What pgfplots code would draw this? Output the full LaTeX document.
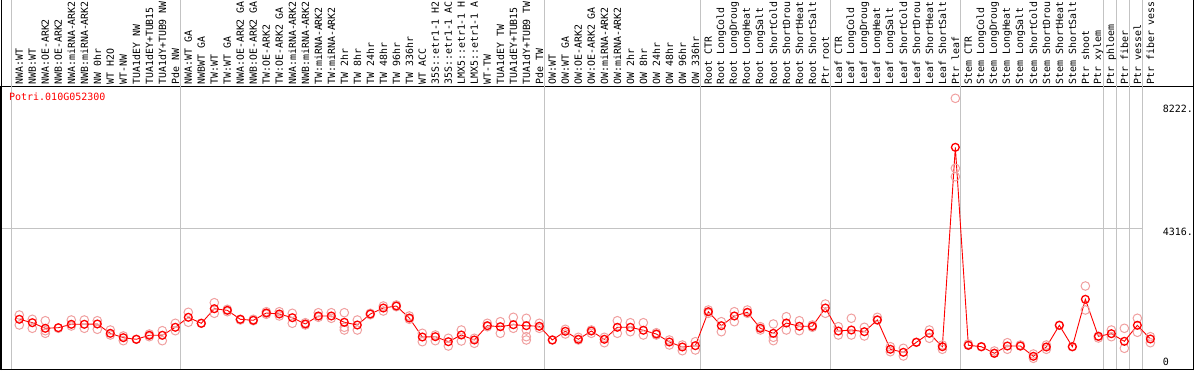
\documentclass[border=0pt]{standalone}
\usepackage{pgfplots}
\pgfplotsset{compat=1.18}
\usepackage{pgfplotstable}
\usepackage{fontspec}
\setmainfont{DejaVu Sans Mono}
\newfontfamily\mono{DejaVu Sans Mono}
\definecolor{rep}{RGB}{240,160,160}
\definecolor{sepgray}{RGB}{195,195,195}

\pgfplotstableread{
x y
0 1419
1 1311
2 1133
3 1152
4 1260
5 1260
6 1270
7 974
8 835
9 784
10 911
11 911
12 1165
13 1482
14 1292
15 1755
16 1704
17 1419
18 1387
19 1619
20 1587
21 1470
22 1270
23 1524
24 1524
25 1324
26 1238
27 1587
28 1777
29 1841
30 1460
31 857
32 867
33 708
34 920
35 762
36 1216
37 1184
38 1247
39 1216
40 1197
41 762
42 1038
43 784
44 1047
45 784
46 1165
47 1165
48 1070
49 952
50 698
51 540
52 581
53 1660
54 1216
55 1524
56 1641
57 1133
58 974
59 1301
60 1197
61 1197
62 1777
63 1047
64 1079
65 1025
66 1397
67 467
68 371
69 689
70 974
71 549
72 6878
73 594
74 549
75 340
76 571
77 571
78 244
79 540
80 1228
81 549
82 2054
83 879
84 962
85 720
86 1228
87 794
}\means

\pgfplotstableread{
x y
0 1555
0 1238
1 1419
1 1133
2 1374
2 974
2 1057
3 1133
4 1397
4 1206
5 1397
5 1133
6 1374
6 1101
7 1079
7 920
8 889
8 740
9 784
10 952
10 867
11 1057
11 740
12 1292
12 1057
13 1641
13 1324
14 1292
15 1946
15 1609
16 1736
16 1660
17 1419
17 1397
18 1419
18 1374
19 1660
19 1577
20 1660
20 1524
21 1609
21 1292
22 1311
22 1238
23 1628
23 1482
24 1628
24 1451
25 1628
25 1165
25 1079
26 1397
26 1079
27 1609
27 1565
28 1841
28 1682
29 1873
29 1819
30 1524
30 1419
31 974
31 708
32 920
32 740
33 816
33 571
34 1079
34 730
35 816
35 657
36 1292
36 1184
37 1343
37 974
38 1482
38 1133
39 1451
39 1079
39 867
39 762
40 1292
40 1133
41 762
42 1101
42 952
43 847
43 762
44 1079
44 974
45 847
45 676
46 1374
46 974
47 1311
47 1025
48 1311
48 920
49 993
49 920
50 762
50 603
51 603
51 422
52 708
52 444
53 1714
53 1609
54 1343
54 1025
55 1660
55 1343
56 1714
56 1609
57 1184
57 1079
58 1270
58 847
58 740
59 1501
59 1079
60 1374
60 1057
61 1238
61 1165
62 1904
62 1609
63 1184
63 920
64 1451
64 920
65 1165
65 889
66 1482
66 1397
67 549
67 390
68 498
68 254
69 689
70 1079
70 816
71 467
71 603
72 8433
72 6212
72 5945
73 594
73 635
74 549
75 340
75 413
76 676
76 467
77 571
77 603
78 181
78 317
79 467
79 603
80 1228
81 549
82 2476
82 1714
83 879
83 825
84 1079
84 867
85 1133
85 498
86 1451
86 1006
87 867
87 676
}\reps

\begin{document}
\begin{tikzpicture}[x=1pt,y=1pt]
\useasboundingbox (0,0) rectangle (1194,370);
\clip (0,0) rectangle (1194,370);
\begin{axis}[
  at={(1pt,1pt)}, anchor=south west, scale only axis,
  width=1192pt, height=283pt,
  xmin=-1.408, xmax=90.285, ymin=-159, ymax=8824,
  axis line style={black, line width=1pt},
  ytick=\empty,
  xtick={0,...,87},
  xticklabels={NWA:WT,NWB:WT,NWA:OE-ARK2,NWB:OE-ARK2,NWA:miRNA-ARK2,NWB:miRNA-ARK2,NW 0hr,WT H2O,WT-NW,TUA1dEY NW,TUA1dEY+TUB15,TUA1dY+TUB9 NW,Pde NW,
  NWA:WT GA,NWBWT GA,TW:WT,TW:WT GA,NWA:OE-ARK2 GA,NWB:OE-ARK2 GA,TW:OE-ARK2,TW:OE-ARK2 GA,NWA:miRNA-ARK2,NWB:miRNA-ARK2,TW:miRNA-ARK2,TW:miRNA-ARK2,TW 2hr,TW 8hr,TW 24hr,TW 48hr,TW 96hr,TW 336hr,WT ACC,35S::etr1-1 H2,35S::etr1-1 AC,LMX5::etr1-1 H,LMX5::etr1-1 A,WT-TW,TUA1dEY TW,TUA1dEY+TUB15,TUA1dY+TUB9 TW,Pde TW,
  OW:WT,OW:WT GA,OW:OE-ARK2,OW:OE-ARK2 GA,OW:miRNA-ARK2,OW:miRNA-ARK2,OW 2hr,OW 8hr,OW 24hr,OW 48hr,OW 96hr,OW 336hr,
  Root CTR,Root LongCold,Root LongDroug,Root LongHeat,Root LongSalt,Root ShortCold,Root ShortDrou,Root ShortHeat,Root ShortSalt,Ptr root,
  Leaf CTR,Leaf LongCold,Leaf LongDroug,Leaf LongHeat,Leaf LongSalt,Leaf ShortCold,Leaf ShortDrou,Leaf ShortHeat,Leaf ShortSalt,Ptr leaf,
  Stem CTR,Stem LongCold,Stem LongDroug,Stem LongHeat,Stem LongSalt,Stem ShortCold,Stem ShortDrou,Stem ShortHeat,Stem ShortSalt,Ptr shoot,Ptr xylem,
  Ptr phloem,Ptr fiber,Ptr vessel,Ptr fiber vess},
  xticklabel pos=upper,
  major tick length=0pt,
  xticklabel style={rotate=90, anchor=west, font=\mono\fontsize{9.9}{12}\selectfont, inner sep=1.2pt},
  clip=false,
]
\foreach \k in {-0.615,12.385,40.385,52.385,62.385,72.385,83.385,84.385,85.385,86.385}{
  \edef\tmp{\noexpand\draw[sepgray, line width=1pt] (axis cs:\k,-159) -- (axis cs:\k,11800);}\tmp
}
\draw[sepgray, line width=1pt] (axis cs:-1.408,4316) -- (axis cs:86.385,4316);
\addplot[only marks, mark=o, mark size=4.3pt, rep, mark options={line width=1pt}] table {\reps};
\addplot[red, line width=0.9pt, mark=o, mark size=3.9pt, mark options={red, line width=1.3pt}] table {\means};
\node[anchor=west, inner sep=0pt, text=red, font=\mono\fontsize{10}{12}\selectfont] at (axis cs:-0.8,8475) {Potri.010G052300};
\node[anchor=north west, inner sep=0pt, font=\mono\fontsize{10}{12}\selectfont] at (axis cs:87.95,8222) {8222.};
\node[anchor=north west, inner sep=0pt, font=\mono\fontsize{10}{12}\selectfont] at (axis cs:87.95,4316) {4316.};
\node[anchor=south west, inner sep=0pt, font=\mono\fontsize{10}{12}\selectfont] at (axis cs:87.95,-60) {0};
\end{axis}
\draw[black, line width=1pt] (1,0) -- (1,370);
\draw[black, line width=1pt] (1193,0) -- (1193,370);
\end{tikzpicture}
\end{document}
